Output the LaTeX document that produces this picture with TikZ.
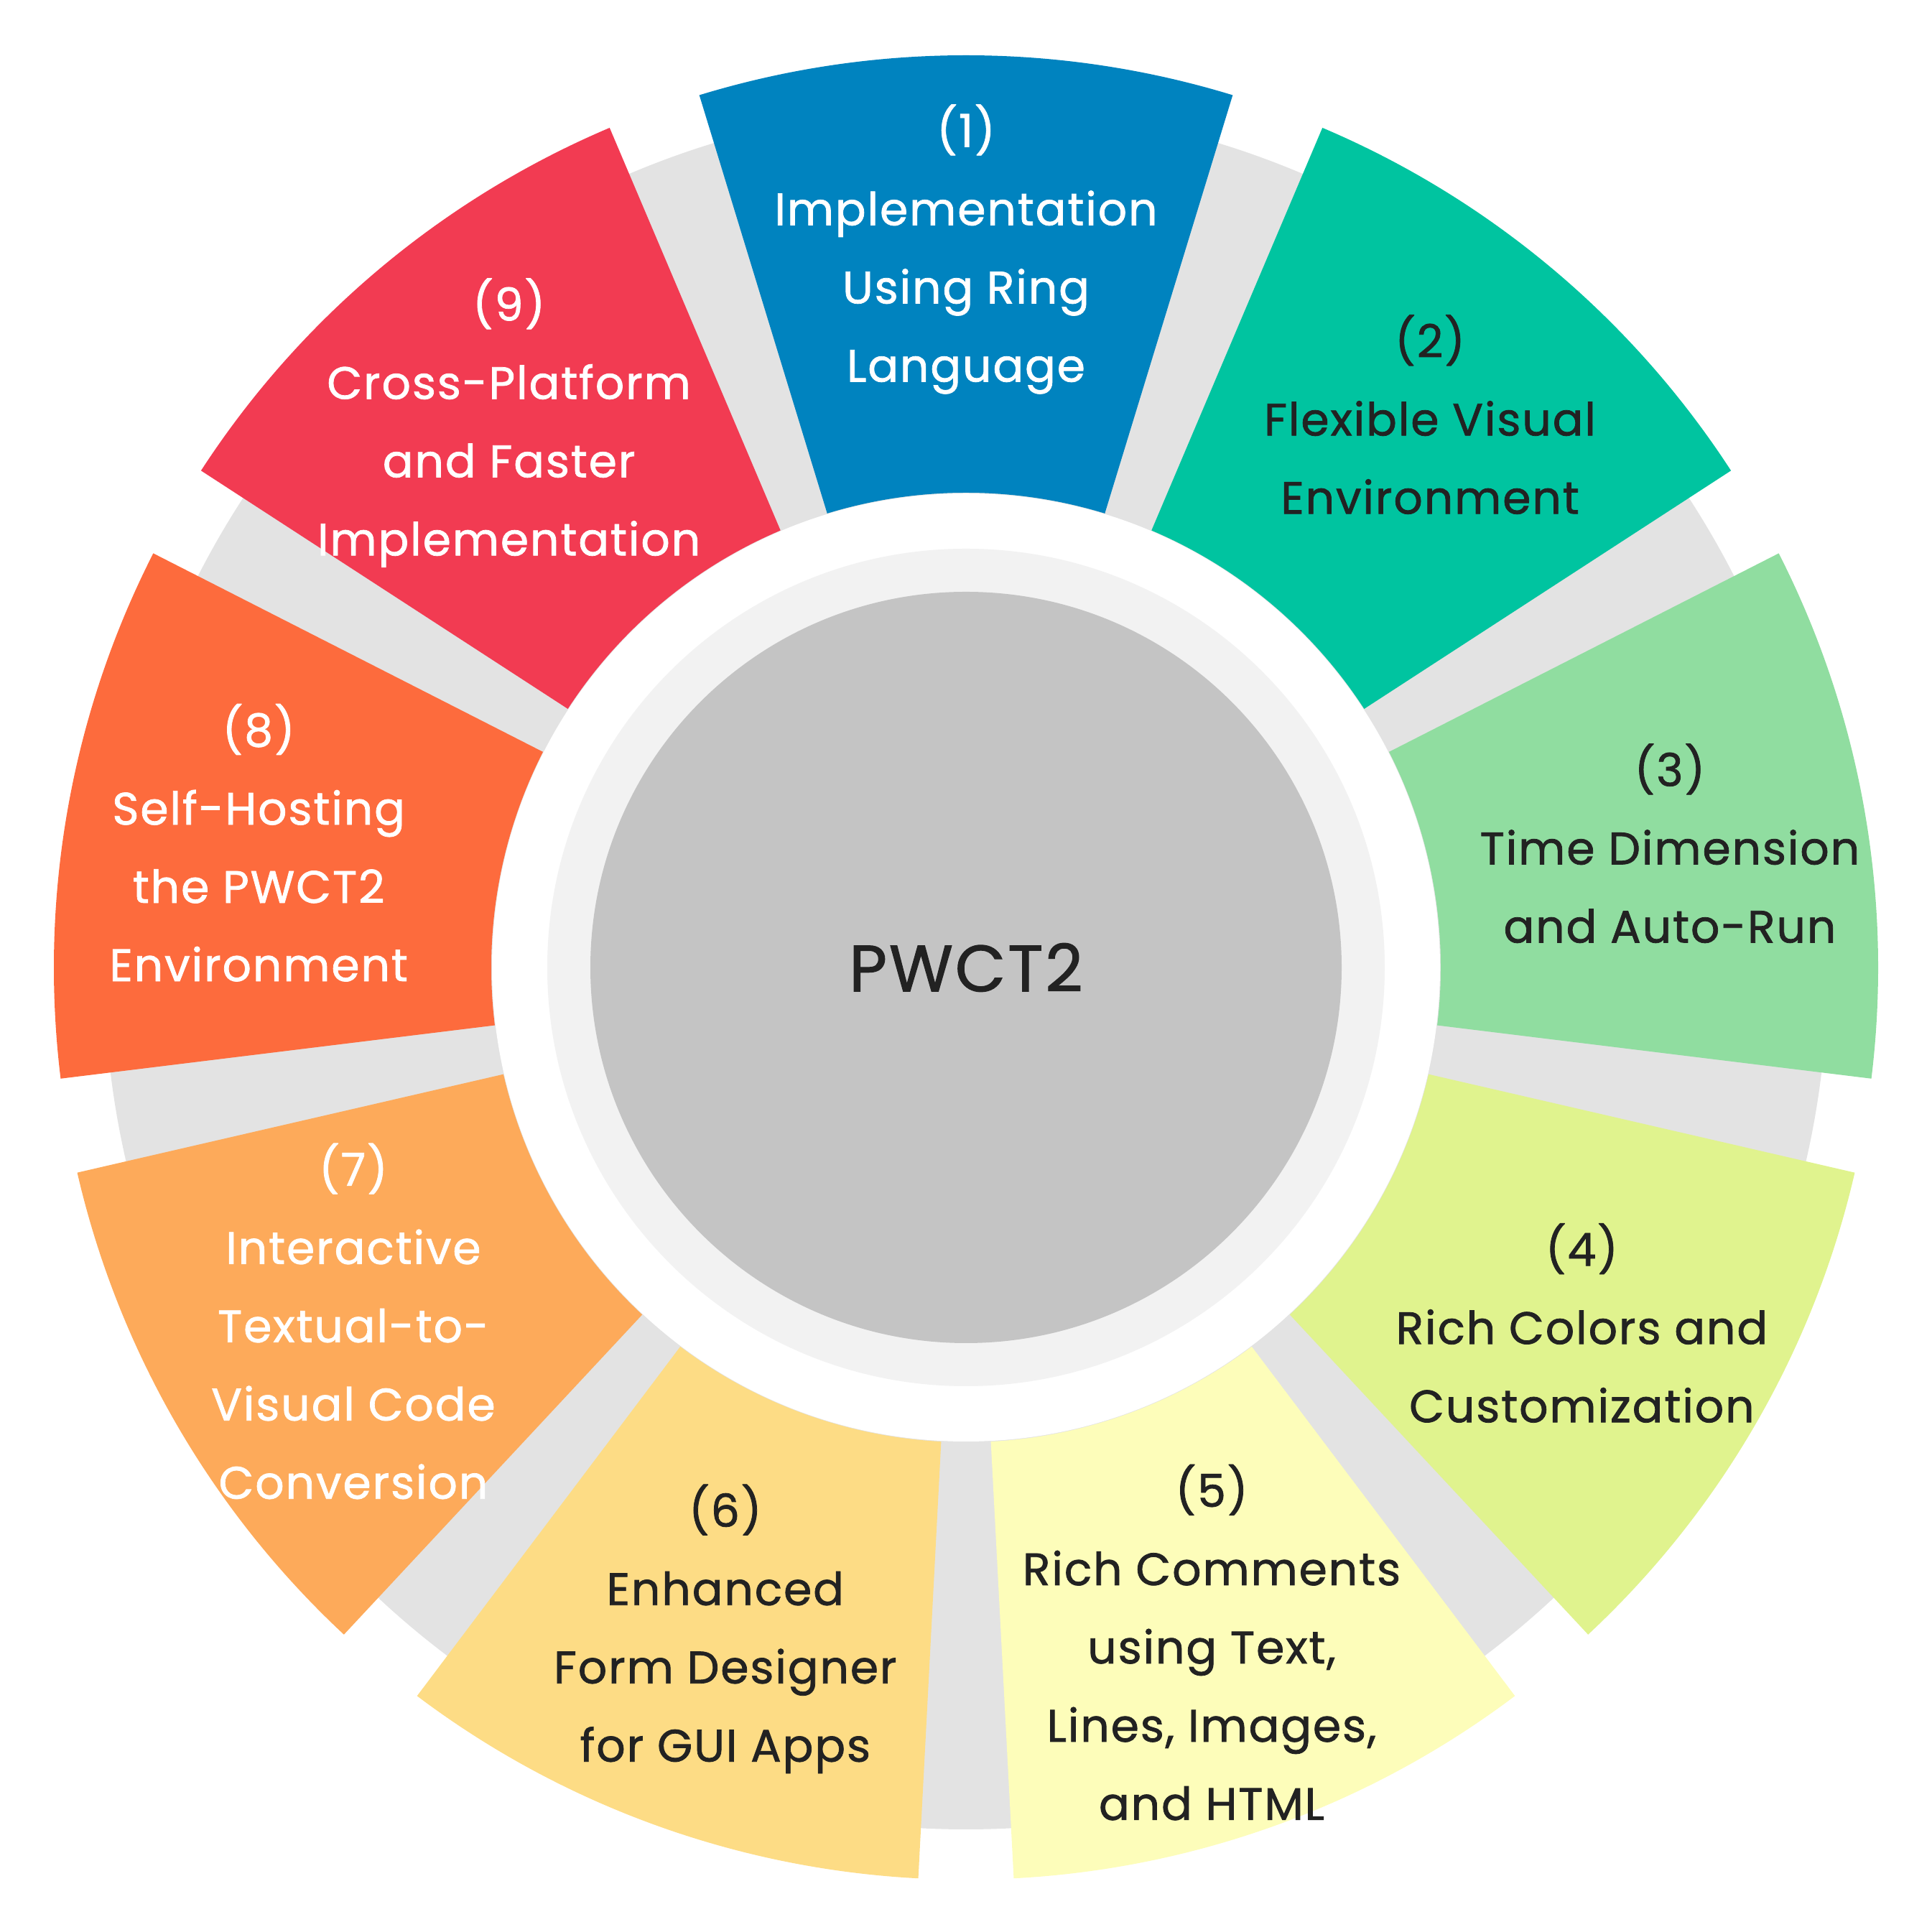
\documentclass[tikz,border=0pt]{standalone}
\usepackage{fontspec}
\setmainfont{Poppins}[FakeBold=1.2,LetterSpace=3]
\definecolor{c1}{HTML}{0083BF}
\definecolor{c2}{HTML}{00C4A0}
\definecolor{c3}{HTML}{90DDA0}
\definecolor{c4}{HTML}{E0F38E}
\definecolor{c5}{HTML}{FDFDBA}
\definecolor{c6}{HTML}{FDDC85}
\definecolor{c7}{HTML}{FDAA5A}
\definecolor{c8}{HTML}{FD6B3D}
\definecolor{c9}{HTML}{F23B52}
\definecolor{ringgray}{HTML}{E3E3E3}
\definecolor{innerwhite}{HTML}{F2F2F2}
\definecolor{coregray}{HTML}{C4C4C4}
\definecolor{darktext}{HTML}{222222}
\tikzset{lbl/.style={align=center,font=\fontsize{18}{31}\selectfont}}
\begin{document}
\begin{tikzpicture}
\useasboundingbox (0,0) rectangle (26.9,26.76);
\begin{scope}[shift={(13.45,13.29)}]
\fill[ringgray] (0,0) circle (12.0);
\fill[white] (0,0) circle (6.6);
\fill[innerwhite] (0,0) circle (5.83);
\foreach \k/\col in {1/c1,2/c2,3/c3,4/c4,5/c5,6/c6,7/c7,8/c8,9/c9}{
  \pgfmathsetmacro{\c}{90-40*(\k-1)}
  \fill[\col] (\c+17:6.61) arc[start angle=\c+17,end angle=\c-17,radius=6.61]
     -- (\c-17:12.7) arc[start angle=\c-17,end angle=\c+17,radius=12.7] -- cycle;
}
\node[circle,fill=coregray,minimum size=10.46cm,inner sep=0,font=\fontsize{26}{30}\selectfont,text=darktext] (core) at (0,0) {PWCT2};
\node[lbl,text=white] (t1) at (90:10.0) {(1)\\Implementation\\Using Ring\\Language};
\node[lbl,text=darktext] (t2) at (50:10.05) {(2)\\Flexible Visual\\Environment};
\node[lbl,text=darktext] (t3) at (10:9.95) {(3)\\Time Dimension\\and Auto-Run};
\node[lbl,text=darktext] (t4) at (-30:9.9) {(4)\\Rich Colors and\\Customization};
\node[lbl,text=darktext] (t5) at (-70:10.0) {(5)\\Rich Comments\\using Text,\\Lines, Images,\\and HTML};
\node[lbl,text=darktext] (t6) at (-110:9.8) {(6)\\Enhanced\\Form Designer\\for GUI Apps};
\node[lbl,text=white] (t7) at (-150:9.85) {(7)\\Interactive\\Textual-to-\\Visual Code\\Conversion};
\node[lbl,text=white] (t8) at (170:10.0) {(8)\\Self-Hosting\\the PWCT2\\Environment};
\node[lbl,text=white] (t9) at (130:9.9) {(9)\\Cross-Platform\\and Faster\\Implementation};
\end{scope}
\end{tikzpicture}
\end{document}
